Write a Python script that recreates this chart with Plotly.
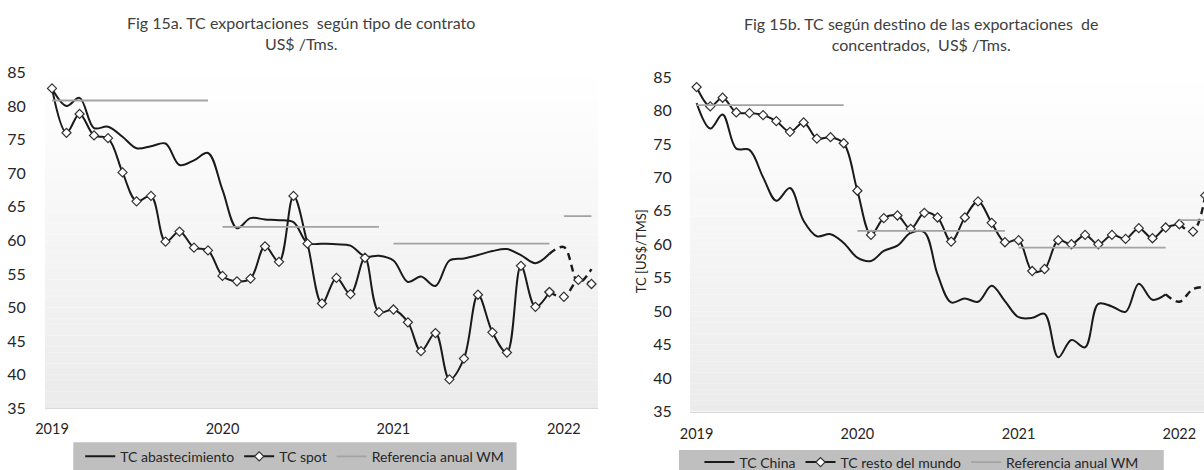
#%%
import pandas as pd
import plotly.graph_objects as go

#%% data, US$/Tms, monthly Jan-2019 .. Mar-2022
months = pd.date_range('2019-01-01', '2022-03-01', freq='MS')
year_ticks = ['2019-01-01', '2020-01-01', '2021-01-01', '2022-01-01']
year_labels = ['2019', '2020', '2021', '2022']

# Fig 15a
tc_abastecimiento = [82.6, 80.0, 81.2, 76.7, 76.9, 75.4, 73.7, 74.0, 74.4, 71.2, 71.9, 73.0,
                     67.5, 61.8, 63.3, 63.1, 63.0, 62.7, 59.6, 59.5, 59.4, 59.2, 57.6, 57.7,
                     57.0, 53.8, 54.6, 53.2, 57.0, 57.3, 57.8, 58.4, 58.7, 57.8, 56.6, 58.0,
                     59.0, 53.7, 55.7]
tc_spot = [82.6, 76.0, 78.8, 75.6, 75.2, 70.1, 65.8, 66.6, 59.8, 61.3, 58.9, 58.5,
           54.7, 53.9, 54.3, 59.1, 56.8, 66.6, 59.5, 50.6, 54.4, 52.0, 57.4, 49.3,
           49.7, 47.8, 43.5, 46.2, 39.3, 42.4, 51.9, 46.3, 43.3, 56.2, 50.1, 52.3,
           51.6, 54.1, 53.5]

# Fig 15b
tc_china = [81.1, 77.3, 79.4, 74.3, 74.1, 70.0, 66.5, 68.4, 63.5, 61.2, 61.5, 60.2,
            58.0, 57.5, 59.0, 59.8, 61.7, 61.8, 55.5, 51.3, 51.9, 51.4, 53.8, 51.5,
            49.1, 49.0, 49.6, 43.1, 45.7, 44.6, 51.1, 50.7, 49.9, 54.1, 51.7, 52.5,
            51.4, 53.3, 53.6]
tc_resto = [83.5, 80.6, 81.9, 79.7, 79.6, 79.3, 78.4, 76.8, 78.2, 75.8, 76.0, 75.1,
            68.0, 61.4, 63.9, 64.3, 62.3, 64.7, 64.0, 60.4, 64.0, 66.4, 63.2, 60.3,
            60.6, 56.0, 56.3, 60.6, 60.0, 61.4, 60.0, 61.4, 60.8, 62.4, 60.9, 62.5,
            63.0, 61.9, 67.3]

# Referencia anual WM (one flat segment per year)
ref_start = ['2019-01-01', '2020-01-01', '2021-01-01', '2022-01-01']
ref_end = ['2019-12-01', '2020-12-01', '2021-12-01', '2022-03-01']
ref_wm = [80.8, 62.0, 59.5, 63.6]

# first month of the provisional (dashed) stretch
dash_from = {'abast': 35, 'spot': 35, 'china': 35, 'resto': 36}

#%% styling
FONT = 'Lato'
INK = '#262626'
LINE = '#1a1a1a'
GREY = '#a3a3a3'
W, H = 1204, 470

fig = go.Figure()


def add_series(y, k, name, xa, ya, leg, markers):
    mode = 'lines+markers' if markers else 'lines'
    mk = dict(symbol='diamond', size=7, color='white', line=dict(color='#333333', width=1.2))
    ln = dict(color=LINE, width=2, shape='spline', smoothing=1)
    fig.add_trace(go.Scatter(x=months[:k + 1], y=y[:k + 1], mode=mode, name=name,
                             line=ln, marker=mk, xaxis=xa, yaxis=ya, legend=leg))
    fig.add_trace(go.Scatter(x=months[k:], y=y[k:], mode=mode, name=name, showlegend=False,
                             line=dict(ln, dash='7px,5px', width=2.4), marker=mk,
                             xaxis=xa, yaxis=ya, legend=leg))


def add_ref(xa, ya, leg):
    xs, ys = [], []
    for s, e, v in zip(ref_start, ref_end, ref_wm):
        xs += [s, e, None]
        ys += [v, v, None]
    fig.add_trace(go.Scatter(x=xs, y=ys, mode='lines', name='Referencia anual WM',
                             line=dict(color=GREY, width=1.8), xaxis=xa, yaxis=ya, legend=leg))


add_series(tc_abastecimiento, dash_from['abast'], 'TC abastecimiento', 'x', 'y', 'legend', False)
add_series(tc_spot, dash_from['spot'], 'TC spot', 'x', 'y', 'legend', True)
add_ref('x', 'y', 'legend')

add_series(tc_china, dash_from['china'], 'TC China', 'x2', 'y2', 'legend2', False)
add_series(tc_resto, dash_from['resto'], 'TC resto del mundo', 'x2', 'y2', 'legend2', True)
add_ref('x2', 'y2', 'legend2')

#%% plot-area gradient (white at top -> light grey at bottom) and legend boxes
shapes = []
n = 60
for xr, yr in [('x domain', 'y domain'), ('x2 domain', 'y2 domain')]:
    for i in range(n):
        t = (i + 0.5) / n
        g = int(round(235 + 20 * t))
        shapes.append(dict(type='rect', xref=xr, yref=yr, x0=0, x1=1, y0=i / n, y1=(i + 1) / n,
                           fillcolor='rgb({0},{0},{0})'.format(g), line=dict(width=0), layer='below'))
for x0, x1, y1 in [(73.3, 516.6, 442.3), (679, 1163.8, 450)]:
    shapes.append(dict(type='rect', xref='paper', yref='paper', x0=x0 / W, x1=x1 / W,
                       y0=0, y1=1 - y1 / H, fillcolor='#bfbfbf', line=dict(width=0), layer='below'))

xcommon = dict(type='date', tickvals=year_ticks, ticktext=year_labels, showgrid=False,
               zeroline=False, showline=True, linecolor='#d9d9d9', linewidth=1,
               ticks='outside', tickcolor='rgba(0,0,0,0)',
               tickfont=dict(family=FONT, size=14.5, color=INK))
ycommon = dict(range=[35, 85], dtick=5, showgrid=False, zeroline=False, showline=False,
               ticks='outside', tickcolor='rgba(0,0,0,0)',
               tickfont=dict(family=FONT, size=16, color=INK))

legcommon = dict(orientation='h', xanchor='center', yanchor='middle', bgcolor='rgba(0,0,0,0)',
                 font=dict(family=FONT, size=14, color=INK), itemwidth=30)

fig.update_layout(
    width=W, height=H, margin=dict(l=0, r=0, t=0, b=0, autoexpand=False),
    paper_bgcolor='white', plot_bgcolor='white',
    xaxis=dict(xcommon, domain=[45 / W, 598 / W], range=['2018-12-17', '2022-03-15'], ticklen=7),
    yaxis=dict(ycommon, domain=[1 - 408.3 / H, 1 - 72.3 / H], ticklen=15),
    xaxis2=dict(xcommon, domain=[690 / W, 1.0], range=['2018-12-17', '2022-02-26'],
                anchor='y2', ticklen=9),
    yaxis2=dict(ycommon, domain=[1 - 411.5 / H, 1 - 77 / H], anchor='x2', ticklen=14),
    legend=dict(legcommon, x=294.7 / W, y=1 - 456.7 / H),
    legend2=dict(legcommon, x=921.4 / W, y=1 - 462.5 / H),
    shapes=shapes,
    annotations=[
        dict(text='Fig 15a. TC exportaciones  según tipo de contrato<br>US$ /Tms.',
             xref='paper', yref='paper', x=301 / W, y=1 - 33 / H, showarrow=False,
             xanchor='center', yanchor='middle', font=dict(family=FONT, size=16, color='#404040')),
        dict(text='Fig 15b. TC según destino de las exportaciones  de<br>concentrados,  US$ /Tms.',
             xref='paper', yref='paper', x=921 / W, y=1 - 34 / H, showarrow=False,
             xanchor='center', yanchor='middle', font=dict(family=FONT, size=16, color='#404040')),
        dict(text='TC [US$/TMS]', textangle=-90, xref='paper', yref='paper',
             x=640.5 / W, y=1 - 250.8 / H, showarrow=False, xanchor='center', yanchor='middle',
             font=dict(family=FONT, size=13, color=INK)),
    ],
)

# the page body keeps the browser's default 8px margin otherwise
fig.write_html('out.html', config={'displayModeBar': False},
               post_script="document.body.style.margin='0px';")
